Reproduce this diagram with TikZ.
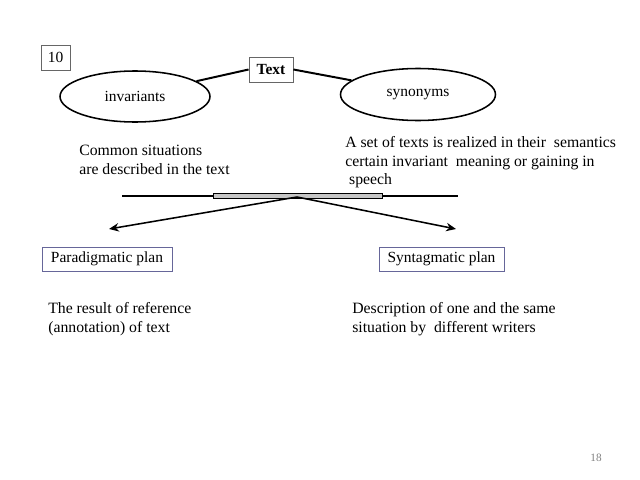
\documentclass[tikz,border=0pt]{standalone}
\usepackage{fontspec}
\setmainfont{Liberation Serif}
\usetikzlibrary{shapes.geometric,arrows.meta}
\begin{document}
\begin{tikzpicture}[x=0.025cm,y=-0.025cm,
  every node/.style={font=\fontsize{11}{13}\selectfont},
  gbox/.style={draw=gray!80!black, line width=0.6pt, inner sep=0pt},
  pbox/.style={draw=blue!20!gray, line width=0.6pt, inner sep=0pt, minimum height=24*0.025cm},
  oval/.style={draw, ellipse, line width=1.1pt, inner sep=0pt},
  txt/.style={align=left, anchor=north west, inner sep=0pt, font=\fontsize{11.2}{13.3}\selectfont},
  link/.style={line width=1.4pt},
  arr/.style={line width=1.1pt, -{Stealth[length=7pt,width=6pt]}}]
\useasboundingbox (0,0) rectangle (640,480);
\node[gbox, minimum width=29*0.025cm, minimum height=25*0.025cm] (ten) at (55.5,57.5) {10};
\node[gbox, minimum width=44*0.025cm, minimum height=25*0.025cm, font=\fontsize{11}{13}\selectfont\bfseries] (text) at (271,69.5) {Text};
\node[oval, minimum width=150*0.025cm, minimum height=51*0.025cm] (inv) at (135,96.5) {invariants};
\node[oval, minimum width=155*0.025cm, minimum height=52*0.025cm] (syn) at (418,94.5) {synonyms};
\draw[link] (text.west) -- (inv.14);
\draw[link] (text.east) -- (syn.168);
\node[txt] (common) at (79,145) {Common situations\\are described in the text};
\node[txt] (aset) at (345,136) {A set of texts is realized in their\ \ semantics\\certain invariant\ \ meaning or gaining in\\\ speech};
\coordinate (hl) at (122,196);
\coordinate (hr) at (458,196);
\draw[line width=1.4pt] (hl) -- (hr);
\node[draw, fill=gray!45, line width=0.6pt, minimum width=169*0.025cm, minimum height=5*0.025cm, inner sep=0pt] (bar) at (297.5,196) {};
\coordinate (apex) at (297,197);
\node[pbox, minimum width=130*0.025cm] (para) at (107,259) {Paradigmatic plan};
\node[pbox, minimum width=125*0.025cm] (synt) at (441.5,259) {Syntagmatic plan};
\coordinate (lt) at (109,229);
\coordinate (rt) at (456,229);
\draw[arr] (apex) -- (lt);
\draw[arr] (apex) -- (rt);
\node[txt] (res) at (48,302) {The result of reference\\(annotation) of text};
\node[txt] (desc) at (352,302) {Description of one and the same\\situation by\ \ different writers};
\node[font=\fontsize{8}{9}\selectfont, text=gray] (num) at (596,458) {18};
\end{tikzpicture}
\end{document}
